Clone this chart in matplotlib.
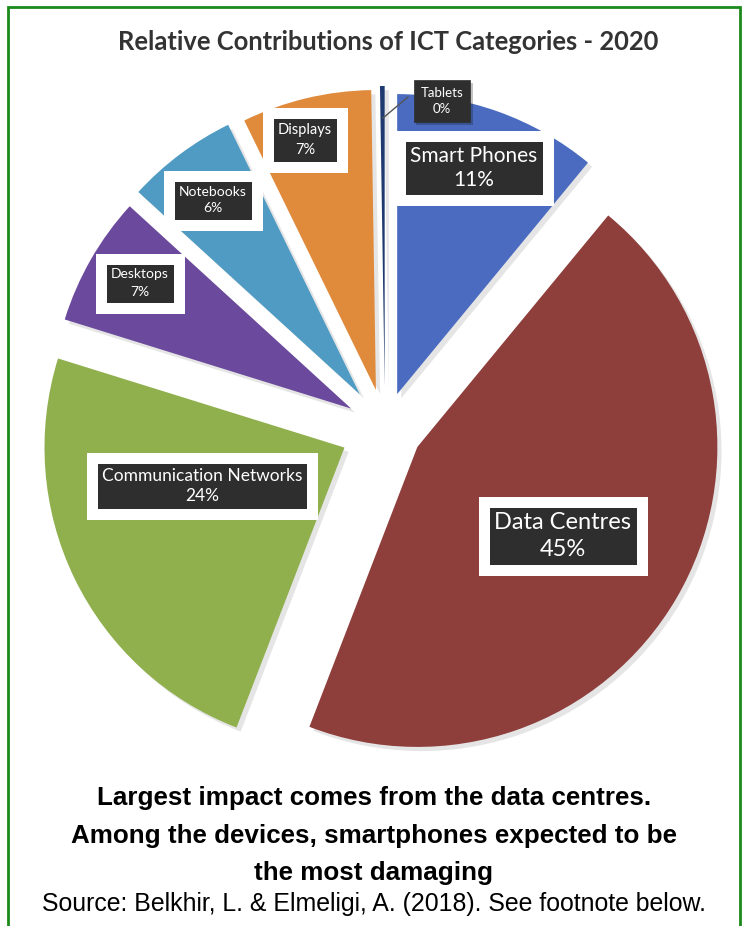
import matplotlib.pyplot as plt
import matplotlib.patheffects as pe
from matplotlib.patches import Rectangle

# data, clockwise from the top
categories = ['Smart Phones', 'Data Centres', 'Communication Networks', 'Desktops',
              'Notebooks', 'Displays', 'Tablets']
shares = [11, 45, 24, 7, 6, 7, 0.25]
share_labels = ['11%', '45%', '24%', '7%', '6%', '7%', '0%']
colors = ['#4a6bbf', '#8e3e3b', '#8fb04d', '#6b4a9d', '#4f9bc3', '#e08a3c', '#1f3a70']
explode = [0.12, 0.125, 0.15, 0.13, 0.14, 0.13, 0.14]   # fraction of radius

W, H = 748, 926
R = 300
fig = plt.figure(figsize=(W / 100, H / 100), dpi=100)
ax = fig.add_axes([0, 0, 1, 1])

def fy(y):
    # pixel row from the top -> data y
    return H - y

wedges, _ = ax.pie(shares, colors=colors, explode=[e * R for e in explode], startangle=90,
                   counterclock=False, radius=R, center=(385, fy(428)),
                   wedgeprops=dict(linewidth=0))
for w in wedges:
    w.set_path_effects([pe.SimplePatchShadow(offset=(3, -3), shadow_rgbFace='#999999', alpha=0.25),
                        pe.Normal()])

ax.set_xlim(0, W)
ax.set_ylim(0, H)
ax.set_aspect('auto')
ax.axis('off')

# label boxes: pixel centre, font size, line spacing
label_pos = {
    'Smart Phones': (474, 168, 15, 1.3),
    'Data Centres': (563, 536, 17, 1.3),
    'Communication Networks': (202, 486, 12.5, 1.35),
    'Desktops': (140, 283, 10, 1.5),
    'Notebooks': (213, 200, 10, 1.5),
    'Displays': (305, 140, 10.5, 1.5),
    'Tablets': (442, 101, 9.5, 1.45),
}
WHITE_PX = 11   # white frame line width (half of it shows outside)
for name, pct in zip(categories, share_labels):
    x, y, fs, ls = label_pos[name]
    fs_px = fs * 100 / 72
    if name == 'Tablets':
        frame, lw, pad = '#2e2e2e', 0.5, 7 / fs_px
    else:
        frame, lw, pad = 'white', WHITE_PX * 72 / 100, (4.5 + WHITE_PX / 2) / fs_px
    t = ax.text(x, fy(y), f'{name}\n{pct}', ha='center', va='center', color='white',
                fontsize=fs, family=['Lato', 'DejaVu Sans'], linespacing=ls,
                bbox=dict(boxstyle=f'square,pad={pad:.3f}', facecolor='#2e2e2e',
                          edgecolor=frame, linewidth=lw))
    t.get_bbox_patch().set_path_effects([pe.SimplePatchShadow(offset=(2, -2), alpha=0.25),
                                         pe.Normal()])

# leader line for the tiny Tablets slice
ax.plot([383, 408], [fy(118), fy(97)], color='#555555', lw=1)

ax.text(388, fy(42), 'Relative Contributions of ICT Categories - 2020', ha='center', va='center',
        fontsize=18.4, fontweight='bold', color='#333333', family=['Lato', 'DejaVu Sans'])

# caption
cap_font = ['Liberation Sans', 'DejaVu Sans']
caption = ['Largest impact comes from the data centres.',
           'Among the devices, smartphones expected to be',
           'the most damaging']
for i, line in enumerate(caption):
    ax.text(374, fy(798 + 37.5 * i), line, ha='center', va='center', fontsize=18.7,
            fontweight='bold', color='black', family=cap_font)
ax.text(374, fy(904), 'Source: Belkhir, L. & Elmeligi, A. (2018). See footnote below.',
        ha='center', va='center', fontsize=17.9, color='black', family=cap_font)

# green frame
ax.add_patch(Rectangle((8, -20), 732, fy(7) + 20, fill=False, edgecolor='#1b8a1b',
                       linewidth=2, clip_on=False))

fig.savefig('out.png', dpi=100)
